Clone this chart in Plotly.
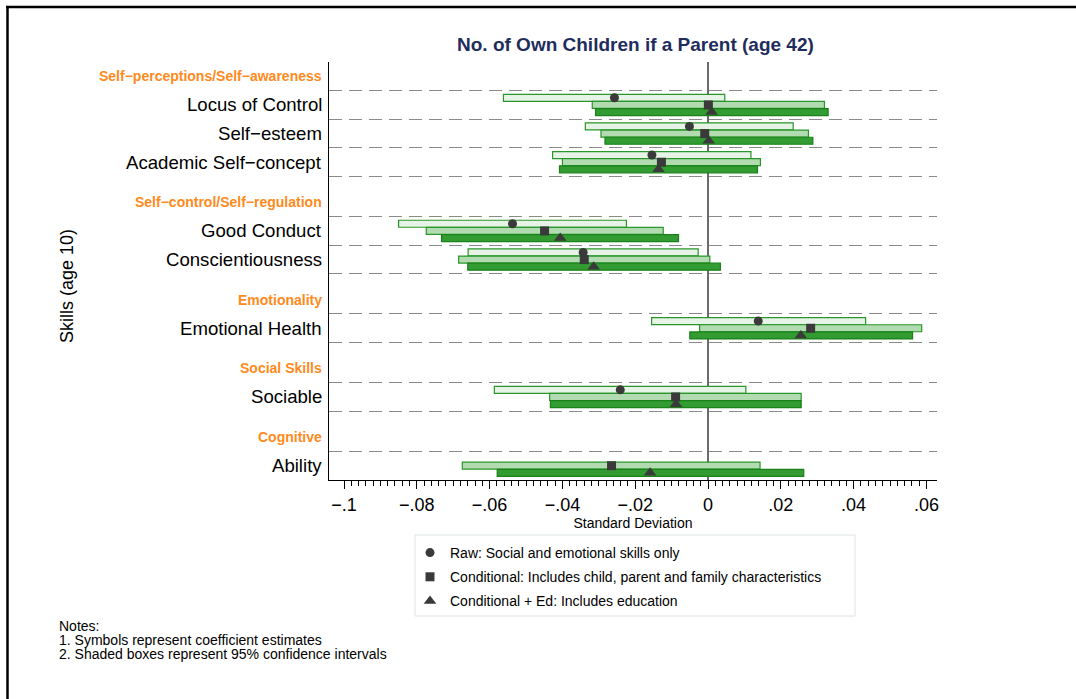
import plotly.graph_objects as go

# ---------------- data ----------------
groups = ["Self−perceptions/Self−awareness", "Self−control/Self−regulation",
          "Emotionality", "Social Skills", "Cognitive"]
skills = ["Locus of Control", "Self−esteem", "Academic Self−concept",
          "Good Conduct", "Conscientiousness", "Emotional Health",
          "Sociable", "Ability"]
skill_group = [0, 0, 0, 1, 1, 2, 3, 4]

raw_est = [-0.0257, -0.0051, -0.0154, -0.0537, -0.0343, 0.0138, -0.0241, None]
raw_lo = [-0.0562, -0.0337, -0.0427, -0.0850, -0.0659, -0.0155, -0.0587, None]
raw_hi = [0.0046, 0.0234, 0.0118, -0.0224, -0.0027, 0.0433, 0.0104, None]

cond_est = [0.0001, -0.0009, -0.0128, -0.0449, -0.0340, 0.0282, -0.0089, -0.0265]
cond_lo = [-0.0318, -0.0294, -0.0400, -0.0774, -0.0685, -0.0023, -0.0435, -0.0675]
cond_hi = [0.0320, 0.0276, 0.0144, -0.0123, 0.0005, 0.0587, 0.0256, 0.0143]

ed_est = [0.0010, 0.0002, -0.0136, -0.0406, -0.0314, 0.0255, -0.0088, -0.0159]
ed_lo = [-0.0309, -0.0283, -0.0408, -0.0732, -0.0660, -0.0050, -0.0433, -0.0579]
ed_hi = [0.0330, 0.0288, 0.0136, -0.0081, 0.0034, 0.0562, 0.0256, 0.0263]

series_names = ["Raw: Social and emotional skills only",
                "Conditional: Includes child, parent and family characteristics",
                "Conditional + Ed: Includes education"]

xtick_vals = [-0.1, -0.08, -0.06, -0.04, -0.02, 0, 0.02, 0.04, 0.06]
xtick_text = ["−.1", "−.08", "−.06", "−.04", "−.02", "0", ".02", ".04", ".06"]

# ---------------- layout geometry ----------------
W, H = 1076, 699
L, R, T, B = 329, 937, 62, 480
ZERO_PX, PX_PER_UNIT = 708, 3640


def px(p):
    return (p - L) / (R - L)


def py(q):
    return (B - q) / (B - T)


pos = 0.0
centers, header_pos, dashes = [], [], []
prev = None
for g in skill_group:
    if g != prev:
        header_pos.append(pos + 0.9)
        pos += 1.4
        dashes.append(pos)
        prev = g
    centers.append(pos + 0.5)
    pos += 1.0
    dashes.append(pos)
dashes = dashes[:-1]
y_top, y_bot = 0.4, pos

fig = go.Figure()

FONT = "Liberation Sans, Arial, Helvetica, sans-serif"
fills = ["rgb(231,243,231)", "rgb(178,219,178)", "rgb(50,155,50)"]
lines = ["rgb(40,150,40)", "rgb(40,150,40)", "rgb(25,130,25)"]
offsets = [-0.25, 0.0, 0.25]
symbols = ["circle", "square", "triangle-up"]
sizes = [9, 9, 11]
data = [(raw_est, raw_lo, raw_hi), (cond_est, cond_lo, cond_hi), (ed_est, ed_lo, ed_hi)]

for k, (est, lo, hi) in enumerate(data):
    idx = [i for i in range(len(skills)) if est[i] is not None]
    fig.add_trace(go.Bar(
        orientation="h",
        y=[centers[i] + offsets[k] for i in idx],
        base=[lo[i] for i in idx],
        x=[hi[i] - lo[i] for i in idx],
        width=0.245,
        marker=dict(color=fills[k], line=dict(color=lines[k], width=1.2)),
        showlegend=False, hoverinfo="skip"))

for k, (est, lo, hi) in enumerate(data):
    idx = [i for i in range(len(skills)) if est[i] is not None]
    fig.add_trace(go.Scatter(
        x=[est[i] for i in idx],
        y=[centers[i] + offsets[k] for i in idx],
        mode="markers", name=series_names[k], legendgroup=str(k),
        marker=dict(symbol=symbols[k], size=sizes[k], color="#3a3a3a",
                    line=dict(width=0))))

annotations = []
for i, s in enumerate(skills):
    annotations.append(dict(x=0, xref="paper", y=centers[i], yref="y", text=s,
                            xanchor="right", yanchor="middle", xshift=-5,
                            showarrow=False, font=dict(size=18.6, color="black")))
for j, g in enumerate(groups):
    annotations.append(dict(x=0, xref="paper", y=header_pos[j], yref="y",
                            text="<b>" + g + "</b>", xanchor="right",
                            yanchor="middle", xshift=-5, showarrow=False,
                            font=dict(size=14, color="#ff8a1c")))
annotations.append(dict(x=px(635), y=py(45), xref="paper", yref="paper",
                        text="<b>No. of Own Children if a Parent (age 42)</b>",
                        showarrow=False, xanchor="center", yanchor="middle",
                        font=dict(size=19, color="#1f2d5c")))
annotations.append(dict(x=px(67), y=py(286), xref="paper", yref="paper",
                        text="Skills (age 10)", textangle=-90, showarrow=False,
                        xanchor="center", yanchor="middle",
                        font=dict(size=18, color="black")))
for txt, yy in [("Notes:", 626), ("1. Symbols represent coefficient estimates", 640),
                ("2. Shaded boxes represent 95% confidence intervals", 654)]:
    annotations.append(dict(x=px(57), y=py(yy), xref="paper", yref="paper",
                            text=txt, showarrow=False, xanchor="left",
                            yanchor="middle", font=dict(size=14, color="black")))

shapes = [
    dict(type="rect", xref="paper", yref="paper", x0=px(415), x1=px(855),
         y0=py(616), y1=py(535), line=dict(color="#dde4e4", width=1),
         fillcolor="white", layer="below"),
    dict(type="line", xref="paper", yref="paper", x0=px(6), x1=px(1076),
         y0=py(7), y1=py(7), line=dict(color="black", width=2.5)),
    dict(type="line", xref="paper", yref="paper", x0=px(7.5), x1=px(7.5),
         y0=py(6), y1=py(699), line=dict(color="black", width=2.5)),
]

minor_vals = [round(-0.1 + 0.002 * k, 4) for k in range(81)]

fig.update_layout(
    width=W, height=H, autosize=False,
    margin=dict(l=L, r=W - R, t=T, b=H - B, pad=0),
    paper_bgcolor="white", plot_bgcolor="white",
    font=dict(family=FONT, color="black"),
    barmode="overlay",
    showlegend=True,
    legend=dict(x=px(410), y=py(537), xanchor="left", yanchor="top",
                font=dict(size=14), bgcolor="rgba(0,0,0,0)", borderwidth=0,
                tracegroupgap=3),
    annotations=annotations, shapes=shapes,
    xaxis=dict(range=[(L - ZERO_PX) / PX_PER_UNIT, (R - ZERO_PX) / PX_PER_UNIT],
               showline=True, linecolor="black", linewidth=1.2,
               ticks="outside", ticklen=8, tickwidth=1.2, tickcolor="black",
               tickmode="array", tickvals=xtick_vals, ticktext=xtick_text,
               tickfont=dict(size=18),
               minor=dict(tickmode="array", tickvals=minor_vals, ticks="outside",
                          ticklen=5, tickwidth=1, tickcolor="black", showgrid=False),
               showgrid=False, zeroline=True, zerolinecolor="#6b6b6b",
               zerolinewidth=1.5,
               title=dict(text="Standard Deviation", font=dict(size=14), standoff=3)),
    yaxis=dict(range=[y_bot, y_top], showline=True, linecolor="black",
               linewidth=1.2, tickmode="array", tickvals=dashes,
               showticklabels=False, ticks="", showgrid=True,
               gridcolor="#8a8a8a", gridwidth=1.2, griddash="13px,7px",
               zeroline=False),
)

fig.write_html("out.html")
